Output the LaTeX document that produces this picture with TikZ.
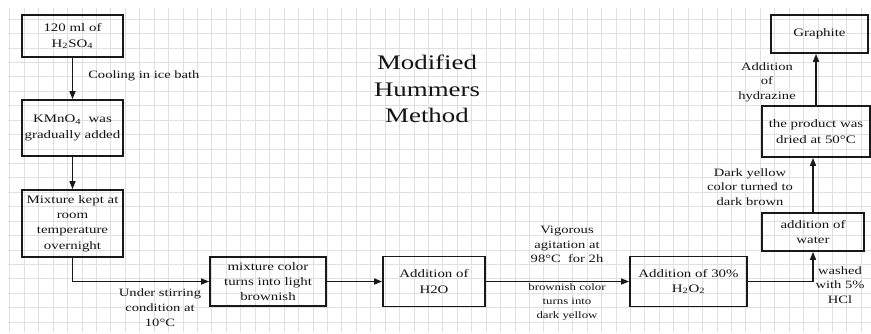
\documentclass[tikz,border=0pt]{standalone}
\usepackage{fontspec}
\setmainfont[FakeStretch=1.3]{Liberation Serif}
\usetikzlibrary{arrows.meta}
\begin{document}
\begin{tikzpicture}[x=0.75pt,y=-0.75pt,
 box/.style={draw=black!90, line width=1.3pt, rectangle, align=center, inner sep=1pt, text=black!92, font=\fontsize{8.6}{11.5}\selectfont},
 sz/.style 2 args={minimum width=#1*0.75pt, minimum height=#2*0.75pt},
 lbl/.style={align=center, text=black!92, font=\fontsize{8.4}{11}\selectfont, inner sep=0pt},
 smalllbl/.style={align=center, text=black!92, font=\fontsize{7.4}{10.5}\selectfont, inner sep=0pt},
 conn/.style={line width=1.1pt, draw=black!90, -{Triangle[length=6pt,width=4.5pt]}},
 gridline/.style={draw=black!12, line width=0.5pt},
]
\useasboundingbox (0,0) rectangle (871,333);
\fill[white] (0,0) rectangle (871,333);
% grid
\begin{scope}
\clip (8,8) rectangle (871,331);
\foreach \i in {0,...,60} {
  \draw[gridline] ({9.8+14.43*\i},0) -- ({9.8+14.43*\i},333);
}
\foreach \j in {0,...,23} {
  \draw[gridline] (0,{4.6+14.43*\j}) -- (871,{4.6+14.43*\j});
}
\end{scope}

% title
\node[align=center, text=black!92, font=\fontsize{15.5}{20}\selectfont, inner sep=0pt] (title) at (427,89) {Modified\\Hummers\\Method};

% boxes
\node[box, sz={101}{42}] (b1) at (72.5,36) {120 ml of\\H\textsubscript{2}SO\textsubscript{4}};
\node[box, sz={101}{56}] (b2) at (72.5,128) {KMnO\textsubscript{4}\ \ was\\gradually added};
\node[box, sz={101}{67}] (b3) at (72.5,223.5) {Mixture kept at\\room\\temperature\\overnight};
\node[box, sz={116}{49}] (b4) at (268,281.5) {mixture color\\turns into light\\brownish};
\node[box, sz={102}{50}] (b5) at (434,281.5) {Addition of\\H2O};
\node[box, sz={117}{50}] (b6) at (688.5,281.5) {Addition of 30\%\\H\textsubscript{2}O\textsubscript{2}};
\node[box, sz={102}{38}] (b7) at (813,232) {addition of\\water};
\node[box, sz={108}{51}] (b8) at (816,131.5) {the product was\\dried at 50°C};
\node[box, sz={97}{38}] (b9) at (819.5,34) {Graphite};

% connectors
\draw[conn] (b1) -- (b2);
\draw[conn] (b2) -- (b3);
\draw[conn] (b3.south) |- (b4.west);
\draw[conn] (b4) -- (b5);
\draw[conn] (b5) -- (b6);
\draw[conn] (b6.east) -| (b7.south);
\draw[conn] (b7.north) -- (b7.north |- b8.south);
\draw[conn] (b8.north) -- (b8.north |- b9.south);

% labels
\node[lbl, anchor=west] (l1) at (88,76) {Cooling in ice bath};
\node[lbl] (l2) at (160,307.5) {Under stirring\\condition at\\10°C};
\node[lbl] (l3) at (567,244.5) {Vigorous\\agitation at\\98°C\ \ for 2h};
\node[smalllbl] (l4) at (567,302.5) {brownish color\\turns into\\dark yellow};
\node[lbl] (l5) at (840,285) {washed\\with 5\%\\HCl};
\node[lbl] (l6) at (750,187) {Dark yellow\\color turned to\\dark brown};
\node[lbl] (l7) at (767,82) {Addition\\of\\hydrazine};
\end{tikzpicture}
\end{document}
